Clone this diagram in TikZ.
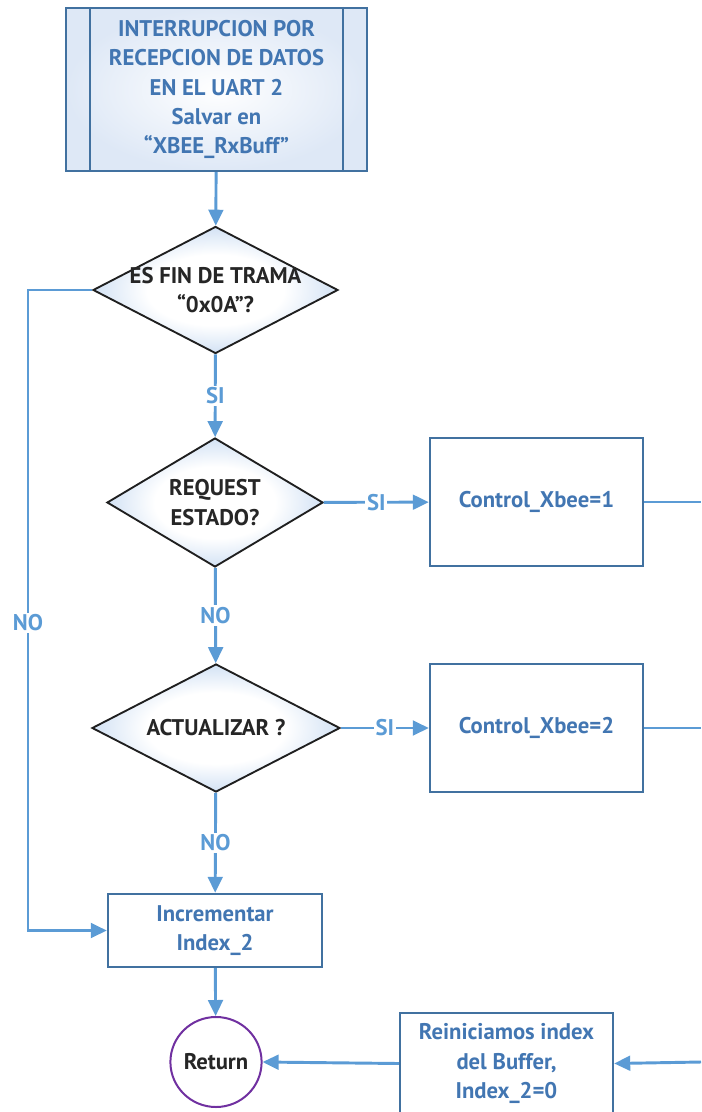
\documentclass[tikz,border=0pt]{standalone}
\usepackage{fontspec}
\setmainfont{PT Sans}
\usetikzlibrary{arrows.meta,shapes.geometric}

\definecolor{lineblue}{RGB}{91,155,213}
\definecolor{boxblue}{RGB}{65,113,160}
\definecolor{txtblue}{RGB}{66,118,178}
\definecolor{shadeblue}{RGB}{110,160,220}
\definecolor{paleblue}{RGB}{222,232,246}
\definecolor{retpurple}{RGB}{112,48,160}

\pgfdeclareradialshading{decishade}{\pgfpoint{0bp}{0bp}}{color(0bp)=(white); color(14bp)=(white); color(50bp)=(shadeblue); color(100bp)=(shadeblue)}

\tikzset{every picture/.style={line width=0.75pt}}
\tikzset{
  flowtext/.style={font=\fontsize{17}{22}\selectfont\bfseries, align=center},
  procbox/.style={rectangle, draw=boxblue, line width=1.8pt, inner sep=0pt, text=txtblue, flowtext},
  decision/.style={diamond, draw=black!88, line width=1.4pt, inner sep=0pt, shading=decishade},
  decitext/.style={flowtext, text=black!85},
  flowline/.style={draw=lineblue, line width=2.2pt},
  flowarrow/.style={flowline, -{Triangle[length=12pt,width=11pt]}},
  branch/.style={fill=white, inner sep=1.5pt, text=lineblue, flowtext},
}

\begin{document}
\begin{tikzpicture}[x=0.75pt,y=0.75pt,yscale=-1,xscale=1]
\useasboundingbox (0,0) rectangle (701,1112);

%Shape: Predefined process
\node (intr) [procbox, minimum width=225.75pt, minimum height=122.25pt, shading=radial, inner color=white, outer color=paleblue] at (216.5,89.5) {INTERRUPCION POR\\RECEPCION DE DATOS\\EN EL UART 2\\Salvar en\\“XBEE\_RxBuff”};
\draw [boxblue, line width=1.8pt] ([xshift=18.75pt]intr.north west) -- ([xshift=18.75pt]intr.south west) ;
\draw [boxblue, line width=1.8pt] ([xshift=-18.75pt]intr.north east) -- ([xshift=-18.75pt]intr.south east) ;

%Flowchart: Decision
\node (fin) [decision, minimum width=183.75pt, minimum height=95.25pt, label={[decitext]center:{ES FIN DE TRAMA\\“0x0A”?}}] at (215.5,290) {};
%Flowchart: Decision
\node (req) [decision, minimum width=162pt, minimum height=96.75pt, label={[decitext]center:{REQUEST\\ESTADO?}}] at (215,502.5) {};
%Flowchart: Decision
\node (act) [decision, minimum width=186pt, minimum height=96pt, label={[decitext]center:{ACTUALIZAR ?}}] at (216,728) {};

%Shape: Rectangle
\node (ctl1) [procbox, minimum width=159.75pt, minimum height=96pt] at (536.5,502) {Control\_Xbee=1};
%Shape: Rectangle
\node (ctl2) [procbox, minimum width=159.75pt, minimum height=96pt] at (536.5,728) {Control\_Xbee=2};
%Shape: Rectangle
\node (inc) [procbox, minimum width=160.5pt, minimum height=54.75pt] at (215,930.5) {Incrementar\\Index\_2};
%Shape: Rectangle
\node (rei) [procbox, minimum width=159.75pt, minimum height=75.75pt] at (506.5,1063.5) {Reiniciamos index\\del Buffer,\\Index\_2=0};
%Shape: Ellipse
\node (ret) [ellipse, draw=retpurple, line width=1.5pt, minimum width=63pt, minimum height=67.5pt, inner sep=0pt, flowtext, text=black!85] at (216,1062) {Return};

\coordinate (loopc) at (28,290);
\coordinate (out1) at (701,502);
\coordinate (out2) at (701,728);
\coordinate (in3) at (701,1062);

%Straight Lines
\draw [flowarrow] (intr) -- (fin) ;
\draw [flowarrow] (fin) -- node [branch] {SI} (req) ;
\draw [flowarrow] (req) -- node [branch] {SI} (ctl1) ;
\draw [flowarrow] (req) -- node [branch] {NO} (act) ;
\draw [flowarrow] (act) -- node [branch] {SI} (ctl2) ;
\draw [flowarrow] (act) -- node [branch] {NO} (inc) ;
\draw [flowarrow] (fin.west) -- (loopc) |- node [branch, pos=0.26] {NO} (inc.west) ;
\draw [flowline] (ctl1.east) -- (out1) ;
\draw [flowline] (ctl2.east) -- (out2) ;
\draw [flowarrow] (inc) -- (ret) ;
\draw [flowarrow] (rei.west) -- (ret.east) ;
\draw [flowarrow] (in3) -- (rei.east) ;

\end{tikzpicture}
\end{document}
